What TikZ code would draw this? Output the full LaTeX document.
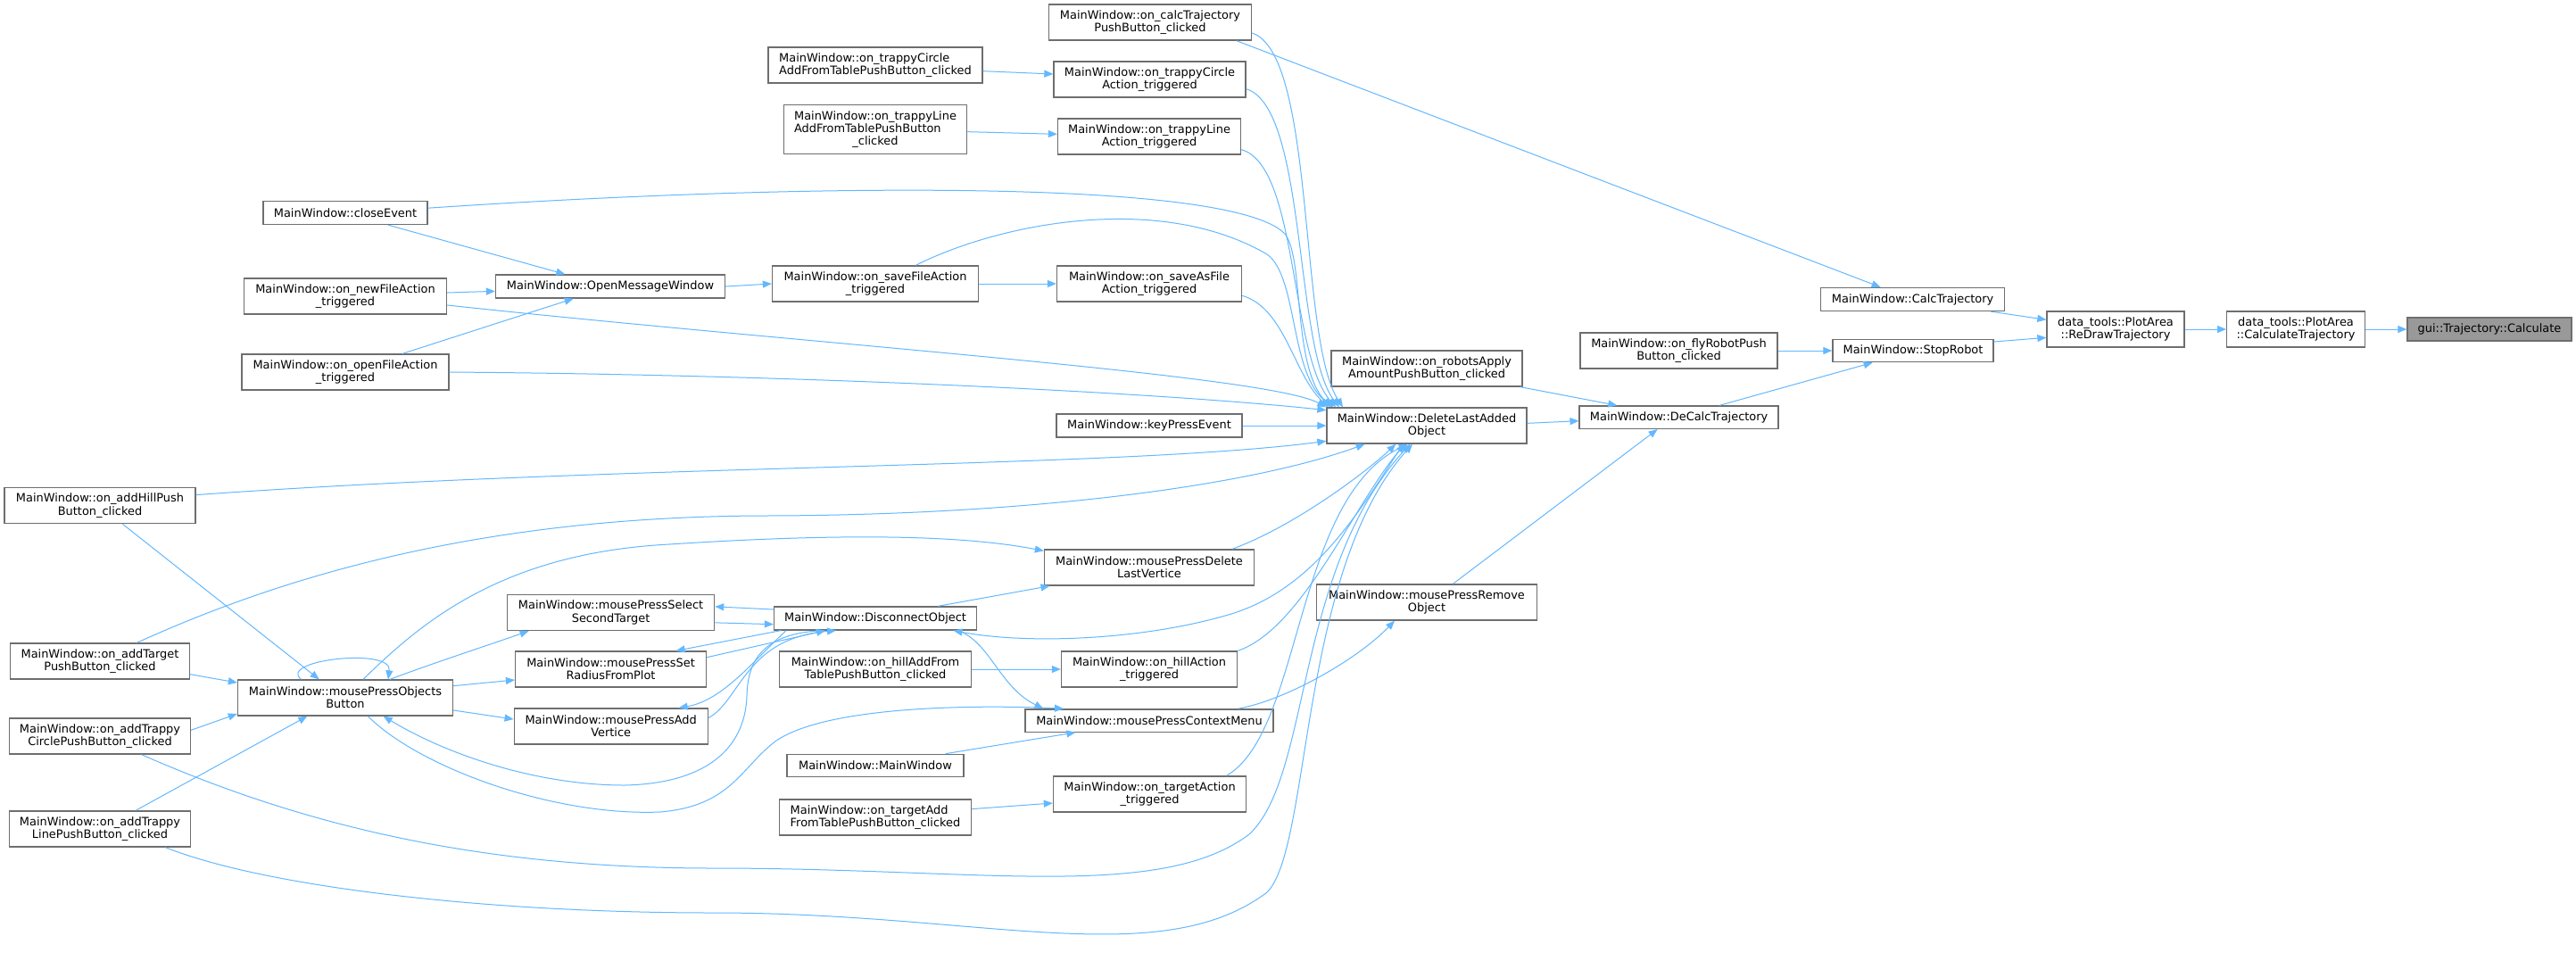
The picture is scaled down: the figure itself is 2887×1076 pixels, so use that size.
\documentclass[tikz,border=0pt]{standalone}
\usepackage{fontspec}
\setmainfont{DejaVu Sans}
\usetikzlibrary{arrows.meta}
\definecolor{edgeblue}{RGB}{99,184,255}
\definecolor{boxgray}{RGB}{110,110,110}
\definecolor{rootgray}{RGB}{153,153,153}
\tikzset{
  fn/.style={rectangle,draw=boxgray,line width=1pt,fill=white,inner sep=0pt,minimum height=30pt,align=center,font=\fontsize{9.7}{10.7}\selectfont},
  fn1/.style={fn,minimum height=19.5pt},
  call/.style={draw=edgeblue,line width=0.75pt,-{Triangle[length=7.5pt,width=6pt]}}
}
\begin{document}
\begin{tikzpicture}[x=0.75pt,y=-0.75pt]
        \path[use as bounding box,fill=white] (0,0) rectangle (2887,1076);

        % Target and its direct callers
        \node[fn1,fill=rootgray,minimum width=138pt] (calc) at (2790,369) {gui::Trajectory::Calculate};
        \node[fn,minimum width=116pt] (calctraj) at (2573,369) {data\_tools::PlotArea\\::CalculateTrajectory};
        \node[fn,minimum width=115.5pt] (redraw) at (2371,369) {data\_tools::PlotArea\\::ReDrawTrajectory};
        \node[fn1,minimum width=154.5pt] (calctrajmw) at (2143.6,335.5) {MainWindow::CalcTrajectory};
        \node[fn1,minimum width=135pt,minimum height=19pt] (stoprobot) at (2144,393) {MainWindow::StopRobot};
        \node[fn,minimum width=165.75pt] (flyrobot) at (1881.5,393) {MainWindow::on\_flyRobotPush\\Button\_clicked};
        \node[fn1,minimum width=167.25pt,minimum height=19pt] (decalc) at (1881.6,467.7) {MainWindow::DeCalcTrajectory};
        \node[fn,minimum width=160.5pt] (robotsapply) at (1599,413) {MainWindow::on\_robotsApply\\AmountPushButton\_clicked};
        \node[fn,minimum width=168pt] (dellast) at (1599,477) {MainWindow::DeleteLastAdded\\Object};
        \node[fn,minimum width=185.25pt] (removeobj) at (1599,675) {MainWindow::mousePressRemove\\Object};

        % Callers of DeleteLastAddedObject
        \node[fn,minimum width=170.25pt] (calcbtn) at (1289,25) {MainWindow::on\_calcTrajectory\\PushButton\_clicked};
        \node[fn,minimum width=161.25pt] (circleact) at (1288.5,89) {MainWindow::on\_trappyCircle\\Action\_triggered};
        \node[fn,minimum width=153.75pt] (lineact) at (1288,153) {MainWindow::on\_trappyLine\\Action\_triggered};
        \node[fn,minimum width=155.25pt] (saveas) at (1288,318) {MainWindow::on\_saveAsFile\\Action\_triggered};
        \node[fn1,minimum width=156pt] (keypress) at (1288,477) {MainWindow::keyPressEvent};
        \node[fn,minimum width=176.25pt] (dellastvert) at (1288,636) {MainWindow::mousePressDelete\\LastVertice};
        \node[fn,minimum width=147.75pt] (hillact) at (1288,750) {MainWindow::on\_hillAction\\\_triggered};
        \node[fn1,minimum width=208.5pt,minimum height=19pt] (ctxmenu) at (1288,807.5) {MainWindow::mousePressContextMenu};
        \node[fn,minimum width=162pt] (targetact) at (1288.5,890) {MainWindow::on\_targetAction\\\_triggered};

        % Third column
        \node[fn,minimum width=180pt,align=left] (circleadd) at (981,73) {MainWindow::on\_trappyCircle\\AddFromTablePushButton\_clicked};
        \node[fn,minimum width=154pt,minimum height=41pt,align=left] (lineadd) at (981,145) {MainWindow::on\_trappyLine\\AddFromTablePushButton\\\hspace*{49pt}\_clicked};
        \node[fn,minimum width=173.25pt] (savefile) at (981,318) {MainWindow::on\_saveFileAction\\\_triggered};
        \node[fn1,minimum width=170.25pt] (disconnect) at (981,693) {MainWindow::DisconnectObject};
        \node[fn,minimum width=161pt] (hilladd) at (981,750) {MainWindow::on\_hillAddFrom\\TablePushButton\_clicked};
        \node[fn1,minimum width=148.5pt,minimum height=19pt] (mainwin) at (981,858) {MainWindow::MainWindow};
        \node[fn,minimum width=161pt,align=left] (targetadd) at (981,916) {MainWindow::on\_targetAdd\\FromTablePushButton\_clicked};

        % Second column
        \node[fn1,minimum width=192.75pt] (openmsg) at (684,321) {MainWindow::OpenMessageWindow};
        \node[fn,minimum width=174pt] (selsecond) at (684.6,686.5) {MainWindow::mousePressSelect\\SecondTarget};
        \node[fn,minimum width=160.5pt] (setradius) at (684.6,750) {MainWindow::mousePressSet\\RadiusFromPlot};
        \node[fn,minimum width=162.75pt] (addvert) at (684.7,814) {MainWindow::mousePressAdd\\Vertice};

        % First columns
        \node[fn1,minimum width=138pt] (closeev) at (387,238.5) {MainWindow::closeEvent};
        \node[fn,minimum width=170.25pt] (newfile) at (387,332) {MainWindow::on\_newFileAction\\\_triggered};
        \node[fn,minimum width=174pt] (openfile) at (387,417) {MainWindow::on\_openFileAction\\\_triggered};
        \node[fn,minimum width=180.75pt] (objbtn) at (387,782) {MainWindow::mousePressObjects\\Button};
        \node[fn,minimum width=160.5pt] (addhill) at (112,566.6) {MainWindow::on\_addHillPush\\Button\_clicked};
        \node[fn,minimum width=150.5pt] (addtarget) at (112,741) {MainWindow::on\_addTarget\\PushButton\_clicked};
        \node[fn,minimum width=152pt] (addcircle) at (112,825) {MainWindow::on\_addTrappy\\CirclePushButton\_clicked};
        \node[fn,minimum width=152pt] (addline) at (112,929) {MainWindow::on\_addTrappy\\LinePushButton\_clicked};

        % Right chain
        \draw[call] (calctraj.east) -- (calc.west);
        \draw[call] (redraw.east) -- (calctraj.west);
        \draw[call] ([xshift=-12pt]calctrajmw.south east) -- ([yshift=8pt]redraw.west);
        \draw[call] ([yshift=7.5pt]stoprobot.east) -- ([yshift=-7pt]redraw.west);
        \draw[call] ([xshift=-13pt]calcbtn.south east) -- ([xshift=-27pt]calctrajmw.north);
        \draw[call] (flyrobot.east) -- (stoprobot.west);
        \draw[call] ([xshift=34pt]decalc.north) -- ([xshift=-34pt]stoprobot.south);
        \draw[call] ([xshift=-2pt]robotsapply.south east) -- ([xshift=-52pt]decalc.north);
        \draw[call] ([yshift=2pt]dellast.east) -- ([yshift=-3pt]decalc.west);
        \draw[call] ([xshift=22pt]removeobj.north) -- ([xshift=-18pt]decalc.south);
        \draw[call] ([xshift=-30pt]ctxmenu.north east) .. controls (1440,785) and (1520,740) .. ([xshift=-27pt]removeobj.south);

        % Into DeleteLastAddedObject from above
        \draw[call] ([yshift=-9pt]calcbtn.east) .. controls (1475,60) and (1455,380) .. ([xshift=14pt]dellast.north west);
        \draw[call] ([yshift=-8pt]circleact.east) .. controls (1465,120) and (1450,390) .. ([xshift=11pt]dellast.north west);
        \draw[call] ([yshift=-11pt]lineact.east) .. controls (1455,185) and (1445,395) .. ([xshift=8pt]dellast.north west);
        \draw[call] ([yshift=4pt]closeev.east) .. controls (900,205) and (1380,200) .. (1440,262) .. controls (1462,290) and (1448,410) .. ([xshift=4pt]dellast.north west);
        \draw[call] ([xshift=34pt]savefile.north) .. controls (1120,250) and (1300,215) .. (1420,285) .. controls (1455,310) and (1445,420) .. ([xshift=6pt]dellast.north west);
        \draw[call] ([yshift=-10pt]saveas.east) .. controls (1440,345) and (1450,420) .. ([xshift=2pt]dellast.north west);
        \draw[call] ([yshift=-7.5pt]newfile.east) .. controls (900,385) and (1420,420) .. (dellast.north west);
        \draw[call] (openfile.east) .. controls (900,420) and (1300,440) .. ([yshift=13pt]dellast.west);
        \draw[call] (keypress.east) -- (dellast.west);
        \draw[call] ([yshift=9pt]addhill.east) .. controls (700,520) and (1250,525) .. ([yshift=-13pt]dellast.west);
        \draw[call] ([xshift=31pt]addtarget.north) .. controls (330,640) and (550,580) .. (850,578) .. controls (1150,578) and (1400,545) .. ([xshift=-52pt]dellast.south);

        % Into DeleteLastAddedObject from below
        \draw[call] ([xshift=-19pt]dellastvert.north east) .. controls (1450,590) and (1530,530) .. ([xshift=-26pt]dellast.south);
        \draw[call] (hillact.north east) .. controls (1460,705) and (1520,560) .. ([xshift=-18pt]dellast.south);
        \draw[call] ([xshift=-17pt]targetact.north east) .. controls (1460,820) and (1450,560) .. ([xshift=-16pt]dellast.south);
        \draw[call] ([xshift=35pt]addcircle.south) .. controls (350,930) and (550,973) .. (800,973) .. controls (1100,973) and (1300,1010) .. (1400,935) .. controls (1470,870) and (1450,640) .. ([xshift=-14pt]dellast.south);
        \draw[call] ([xshift=55pt]addline.south) .. controls (300,995) and (550,1023) .. (800,1023) .. controls (1100,1023) and (1300,1090) .. (1420,1000) .. controls (1470,950) and (1455,640) .. ([xshift=-12pt]dellast.south);
        \draw[call] ([xshift=-20pt]dellast.south) .. controls (1520,580) and (1470,660) .. (1380,688) .. controls (1280,718) and (1150,722) .. ([xshift=-20pt]disconnect.south east);

        % Left part
        \draw[call] ([xshift=36pt]closeev.south) -- ([xshift=-38pt]openmsg.north);
        \draw[call] ([yshift=3pt]newfile.east) -- ([yshift=-4pt]openmsg.west);
        \draw[call] ([xshift=48pt]openfile.north) -- ([xshift=-31pt]openmsg.south);
        \draw[call] (openmsg.east) -- (savefile.west);
        \draw[call] (savefile.east) -- (saveas.west);
        \draw[call] ([yshift=-5pt]circleadd.east) -- ([yshift=4.5pt]circleact.west);
        \draw[call] ([yshift=-2pt]lineadd.east) -- ([yshift=2pt]lineact.west);
        \draw[call] (hilladd.east) -- (hillact.west);
        \draw[call] ([yshift=7pt]targetadd.east) -- ([yshift=-7.5pt]targetact.west);
        \draw[call] ([xshift=59pt]mainwin.north) -- ([xshift=-62pt]ctxmenu.south);

        % mousePressObjectsButton
        \draw[call] ([xshift=19pt]addhill.south) -- ([xshift=-22pt]objbtn.north);
        \draw[call] ([yshift=-11pt]addtarget.east) -- ([yshift=12.75pt]objbtn.west);
        \draw[call] ([yshift=5pt]addcircle.east) -- ([yshift=-13.5pt]objbtn.west);
        \draw[call] ([xshift=30pt]addline.north) -- ([xshift=-32pt]objbtn.south);
        \draw[call] ([xshift=-37pt]objbtn.north) .. controls (310,740) and (440,725) .. ([xshift=36pt]objbtn.north);
        \draw[call] ([xshift=37.5pt]objbtn.north) .. controls (480,745) and (550,722) .. ([xshift=-69pt]selsecond.south);
        \draw[call] ([yshift=10pt]objbtn.east) -- ([yshift=-9pt]setradius.west);
        \draw[call] ([yshift=-10.5pt]objbtn.east) -- ([yshift=6pt]addvert.west);
        \draw[call] ([xshift=15pt]objbtn.north) .. controls (470,700) and (560,620) .. (750,610) .. controls (950,597) and (1080,600) .. ([yshift=14pt]dellastvert.west);
        \draw[call] ([xshift=19pt]objbtn.south) .. controls (470,860) and (620,915) .. (740,910) .. controls (820,903) and (830,860) .. (870,830) .. controls (930,790) and (1100,790) .. ([xshift=-72pt]ctxmenu.north);

        % DisconnectObject
        \draw[call] ([xshift=-45pt]disconnect.south) .. controls (860,710) and (838,735) .. (837,780) .. controls (835,840) and (790,878) .. (700,880) .. controls (600,880) and (500,845) .. ([xshift=32pt]objbtn.south);
        \draw[call] ([yshift=7.5pt]disconnect.west) -- ([yshift=5pt]selsecond.east);
        \draw[call] ([yshift=-8.5pt]selsecond.east) -- ([yshift=-5pt]disconnect.west);
        \draw[call] ([xshift=6pt]disconnect.south west) -- ([xshift=-26pt]setradius.north east);
        \draw[call] ([yshift=10pt]setradius.east) -- ([xshift=-42pt]disconnect.south);
        \draw[call] ([xshift=-75pt]disconnect.south) .. controls (845,740) and (810,785) .. ([xshift=57pt]addvert.north);
        \draw[call] ([yshift=7pt]addvert.east) .. controls (830,785) and (835,715) .. ([xshift=-33pt]disconnect.south);
        \draw[call] ([xshift=-33pt]disconnect.north east) -- ([xshift=5pt]dellastvert.south west);
        \draw[call] ([xshift=-16pt]disconnect.south east) .. controls (1110,720) and (1120,770) .. ([xshift=-89pt]ctxmenu.north);
    \end{tikzpicture}
\end{document}
